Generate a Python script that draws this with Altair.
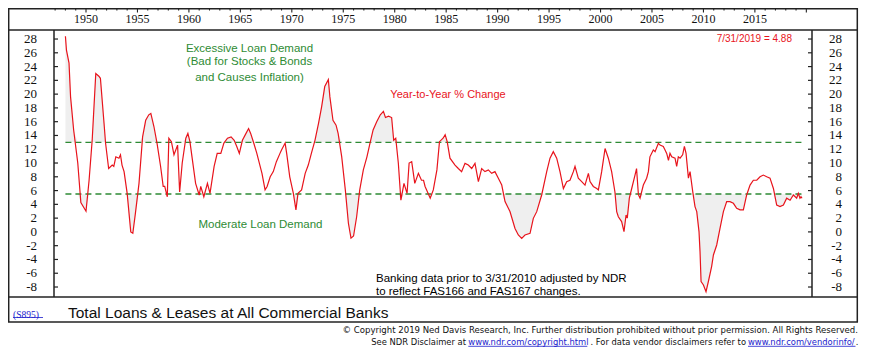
import altair as alt
import pandas as pd

# ---------------- data ----------------
dates = [
    1948.0, 1948.1, 1948.35, 1948.5, 1948.8, 1949.2, 1949.5, 1950.0, 1950.3, 1950.6,
    1950.95, 1951.25, 1951.4, 1951.75, 1951.9, 1952.2, 1952.55, 1952.7, 1952.9, 1953.2,
    1953.35, 1953.5, 1953.7, 1954.0, 1954.35, 1954.55, 1954.8, 1955.15, 1955.5, 1955.8,
    1956.1, 1956.3, 1956.6, 1956.9, 1957.25, 1957.5, 1957.65, 1957.9, 1958.05, 1958.3,
    1958.55, 1958.9, 1959.1, 1959.35, 1959.7, 1959.9, 1960.1, 1960.3, 1960.65, 1961.0,
    1961.15, 1961.45, 1961.8, 1962.05, 1962.45, 1962.75, 1963.1, 1963.4, 1963.75, 1964.1,
    1964.4, 1964.65, 1964.9, 1965.2, 1965.55, 1965.8, 1966.0, 1966.3, 1966.6, 1967.1,
    1967.4, 1967.6, 1967.9, 1968.2, 1968.5, 1968.85, 1969.0, 1969.35, 1969.5, 1969.8,
    1970.15, 1970.4, 1970.6, 1970.95, 1971.3, 1971.6, 1971.9, 1972.25, 1972.6, 1972.9,
    1973.2, 1973.55, 1973.7, 1974.0, 1974.3, 1974.5, 1974.85, 1975.2, 1975.5, 1975.75,
    1976.0, 1976.3, 1976.6, 1976.95, 1977.3, 1977.6, 1977.9, 1978.25, 1978.6, 1978.9,
    1979.1, 1979.4, 1979.7, 1979.9, 1980.1, 1980.35, 1980.6, 1980.9, 1981.2, 1981.4,
    1981.65, 1981.95, 1982.3, 1982.6, 1982.8, 1982.95, 1983.1, 1983.45, 1983.75, 1984.1,
    1984.35, 1984.7, 1984.9, 1985.1, 1985.37, 1985.86, 1986.18, 1986.5, 1986.83, 1987.15,
    1987.48, 1987.8, 1988.13, 1988.45, 1988.77, 1989.1, 1989.42, 1989.74, 1990.07, 1990.4,
    1990.72, 1991.2, 1991.69, 1992.01, 1992.34, 1992.66, 1993.15, 1993.47, 1993.8, 1994.28,
    1994.77, 1995.09, 1995.41, 1995.74, 1996.06, 1996.39, 1996.71, 1997.03, 1997.36, 1997.52,
    1997.84, 1998.17, 1998.49, 1998.82, 1998.98, 1999.3, 1999.63, 1999.79, 2000.11, 2000.44,
    2000.76, 2001.08, 2001.4, 2001.57, 2001.73, 2002.05, 2002.28, 2002.48, 2002.6, 2002.8,
    2003.03, 2003.35, 2003.5, 2003.68, 2003.84, 2004.16, 2004.48, 2004.65, 2004.8, 2005.13,
    2005.3, 2005.62, 2005.78, 2006.1, 2006.27, 2006.43, 2006.6, 2006.75, 2006.92, 2007.24,
    2007.4, 2007.56, 2007.73, 2007.98, 2008.15, 2008.31, 2008.54, 2008.7, 2008.96, 2009.18,
    2009.35, 2009.57, 2009.67, 2009.77, 2010.0, 2010.25, 2010.48, 2010.8, 2010.97, 2011.29,
    2011.61, 2011.94, 2012.26, 2012.58, 2012.91, 2013.23, 2013.56, 2013.88, 2014.2, 2014.53,
    2014.85, 2015.18, 2015.5, 2015.82, 2016.15, 2016.47, 2016.8, 2017.12, 2017.44, 2017.77,
    2018.09, 2018.42, 2018.74, 2019.06, 2019.22, 2019.38, 2019.48, 2019.58,
]
yoy = [
    28.4, 26.4, 24.5, 19.6, 14.8, 10.0, 4.25, 3.0, 7.5, 13.3,
    23.0, 22.6, 22.3, 15.8, 12.9, 9.2, 9.7, 9.5, 10.9, 10.7,
    11.2, 9.7, 8.75, 5.6, 0.0, -0.2, 2.7, 7.05, 13.8, 16.2,
    17.0, 17.2, 15.3, 12.9, 9.5, 6.6, 6.6, 5.1, 13.6, 13.1,
    11.2, 12.6, 5.8, 10.0, 13.6, 14.3, 13.1, 10.9, 7.05, 5.35,
    6.6, 5.1, 7.05, 5.6, 9.5, 11.4, 11.4, 12.9, 13.6, 13.8,
    13.3, 12.4, 11.4, 13.3, 14.3, 15.0, 14.3, 12.9, 11.4, 8.5,
    6.1, 6.6, 8.0, 8.75, 10.2, 11.4, 11.9, 12.9, 11.4, 8.0,
    5.6, 3.2, 5.6, 6.1, 8.5, 9.7, 11.4, 13.3, 15.8, 18.2,
    21.1, 22.1, 19.6, 16.2, 15.5, 14.3, 10.9, 6.1, 1.25, -0.9,
    -0.6, 2.2, 6.1, 9.0, 10.9, 12.9, 14.8, 16.0, 17.0, 17.5,
    16.6, 16.8, 16.6, 13.3, 13.6, 10.0, 4.6, 7.05, 5.6, 10.0,
    10.2, 7.05, 8.5, 7.5, 7.5, 6.6, 6.1, 4.9, 6.1, 9.0,
    13.1, 13.6, 14.1, 13.1, 10.7, 9.7, 9.2, 8.75, 9.95, 9.7,
    9.2, 9.95, 7.3, 9.2, 8.75, 9.0, 8.5, 8.75, 7.8, 6.8,
    4.4, 2.95, 0.5, -0.45, -0.93, -0.45, -0.2, 1.97, 2.94, 5.36,
    8.75, 10.7, 11.65, 10.7, 8.75, 6.3, 7.3, 7.5, 8.75, 9.5,
    7.8, 7.3, 6.8, 8.5, 7.3, 6.6, 6.3, 6.1, 8.75, 12.1,
    10.7, 8.75, 5.8, 2.95, 2.2, 1.5, 0.04, 2.45, 2.0, 4.9,
    6.3, 8.25, 9.2, 5.4, 4.9, 6.8, 7.8, 8.75, 10.9, 11.9,
    11.65, 12.85, 12.6, 12.4, 11.9, 11.4, 10.4, 11.4, 10.9, 10.7,
    9.5, 10.9, 10.7, 11.2, 12.4, 11.4, 7.8, 8.75, 5.84, 3.67,
    2.94, 0.04, -2.87, -7.2, -7.7, -8.67, -7.2, -5.0, -3.35, -1.9,
    0.5, 2.94, 4.4, 4.4, 4.15, 3.42, 3.2, 3.2, 5.36, 6.8,
    7.5, 7.5, 8.0, 8.25, 8.0, 7.8, 6.3, 3.9, 3.67, 3.9,
    4.9, 4.6, 5.36, 4.9, 5.6, 4.9, 5.1, 4.88,
]
upper_band = 13.0
lower_band = 5.5
y_ticks = list(range(-8, 29, 2))
year_ticks = list(range(1947, 2021))
year_labels = list(range(1950, 2020, 5))

# ---------------- styling ----------------
SANS = "Liberation Sans, Arial, sans-serif"
SERIF = "Liberation Serif, Times New Roman, serif"
NARROW = "Liberation Sans Narrow, Arial Narrow, DejaVu Sans Condensed, sans-serif"
RED = "#e8141c"
GREEN = "#2e8b34"
FRAME = "#222222"
BLUE = "#1a1acc"

W, H = 758, 267
xs = alt.Scale(domain=[1946.89, 2020.55], nice=False, zero=False)
ys = alt.Scale(domain=[-9.45, 29.31], nice=False, zero=False)

df = pd.DataFrame({"t": dates, "v": yoy})
base = alt.Chart(df)

area_hi = base.transform_calculate(
    hi=f"max(datum.v, {upper_band})", b=f"{upper_band}"
).mark_area(color="#a8a8a8", opacity=0.18).encode(
    x=alt.X("t:Q", scale=xs, axis=None),
    y=alt.Y("hi:Q", scale=ys, axis=None),
    y2="b:Q",
)
area_lo = base.transform_calculate(
    lo=f"min(datum.v, {lower_band})", b=f"{lower_band}"
).mark_area(color="#a8a8a8", opacity=0.18).encode(
    x=alt.X("t:Q", scale=xs, axis=None),
    y=alt.Y("lo:Q", scale=ys, axis=None),
    y2="b:Q",
)

bands = alt.Chart(pd.DataFrame({
    "y": [upper_band, lower_band],
    "x1": [dates[0], dates[0]],
    "x2": [dates[-1], dates[-1]],
})).mark_rule(color=GREEN, strokeWidth=1.3, strokeDash=[6, 4]).encode(
    x=alt.X("x1:Q", scale=xs, axis=None),
    x2="x2:Q",
    y=alt.Y("y:Q", scale=ys, axis=None),
)

line = base.mark_line(color=RED, strokeWidth=1.2).encode(
    x=alt.X("t:Q", scale=xs, axis=None),
    y=alt.Y("v:Q", scale=ys, axis=None),
)

# y-axis ticks and labels (both sides)
ydf = pd.DataFrame({"yt": y_ticks, "lab": [str(v) for v in y_ticks]})
ytick_l = alt.Chart(ydf).mark_rule(color=FRAME, strokeWidth=1.2).encode(
    y=alt.Y("yt:Q", scale=ys, axis=None), x=alt.value(0), x2=alt.value(4))
ytick_r = alt.Chart(ydf).mark_rule(color=FRAME, strokeWidth=1.2).encode(
    y=alt.Y("yt:Q", scale=ys, axis=None), x=alt.value(754), x2=alt.value(758))
ylab_l = alt.Chart(ydf).mark_text(font=SERIF, fontSize=13, align="right", baseline="middle",
                                  color="#111").encode(
    y=alt.Y("yt:Q", scale=ys, axis=None), x=alt.value(-17), text="lab:N")
ylab_r = alt.Chart(ydf).mark_text(font=SERIF, fontSize=13, align="right", baseline="middle",
                                  color="#111").encode(
    y=alt.Y("yt:Q", scale=ys, axis=None), x=alt.value(788), text="lab:N")

# x-axis (top strip) ticks and labels
xdf = pd.DataFrame({"yr": year_ticks})
xtick_minor = alt.Chart(xdf).transform_filter("datum.yr % 5 != 0").mark_rule(
    color=FRAME, strokeWidth=1.1).encode(
    x=alt.X("yr:Q", scale=xs, axis=None), y=alt.value(-21.5), y2=alt.value(-19.5))
xtick_major = alt.Chart(xdf).transform_filter("datum.yr % 5 == 0").mark_rule(
    color=FRAME, strokeWidth=1.1).encode(
    x=alt.X("yr:Q", scale=xs, axis=None), y=alt.value(-21.5), y2=alt.value(-17.5))
xlab = alt.Chart(pd.DataFrame({"yr": year_labels, "lab": [str(v) for v in year_labels]})).mark_text(
    font=SERIF, fontSize=12, align="center", baseline="middle", color="#111").encode(
    x=alt.X("yr:Q", scale=xs, axis=None), y=alt.value(-11), text="lab:N")


def seg(x1, y1, x2, y2, color=FRAME, w=1.5):
    return alt.Chart(pd.DataFrame({"d": [0]})).mark_rule(color=color, strokeWidth=w).encode(
        x=alt.value(x1), x2=alt.value(x2), y=alt.value(y1), y2=alt.value(y2))


def label(txt, x, y, size, color="#000", font=SANS, align="left", baseline="middle"):
    return alt.Chart(pd.DataFrame({"s": [txt]})).mark_text(
        font=font, fontSize=size, color=color, align=align, baseline=baseline).encode(
        text="s:N", x=alt.value(x), y=alt.value(y))


frame = [
    seg(-45.3, -21.3, 803.3, -21.3),   # top line
    seg(-46, 0, 804, 0),               # top of plot / bottom of year strip
    seg(-46, 267, 804, 267),           # bottom of plot
    seg(-46, 292, 804, 292),           # bottom of title box
    seg(-45.3, -22, -45.3, 292),       # outer left
    seg(803.3, -22, 803.3, 292),       # outer right
    seg(0, 0, 0, 267),                 # plot left
    seg(758, 0, 758, 267),             # plot right
]

CS = 9.3
texts = [
    label("Excessive Loan Demand", 195.5, 18.5, 11.5, GREEN, align="center"),
    label("(Bad for Stocks & Bonds", 195.5, 32, 11.5, GREEN, align="center"),
    label("and Causes Inflation)", 195.5, 47.5, 11.5, GREEN, align="center"),
    label("Moderate Loan Demand", 206.5, 195, 11.5, GREEN, align="center"),
    label("Year-to-Year % Change", 394, 64.5, 11, RED, align="center"),
    label("7/31/2019 = 4.88", 738, 9, 10, RED, align="right"),
    label("Banking data prior to 3/31/2010 adjusted by NDR", 322, 248.5, 11.5, "#000"),
    label("to reflect FAS166 and FAS167 changes.", 322, 261.5, 11.5, "#000"),
    label("(S895)", -41, 284.5, 9.5, BLUE, font=SERIF),
    seg(-41, 287.5, -11, 287.5, BLUE, 0.8),
    label("Total Loans & Leases at All Commercial Banks", 14, 282.8, 15.5, "#111"),
    label("\u00a9 Copyright 2019 Ned Davis Research, Inc.  Further distribution prohibited "
          "without prior permission.  All Rights Reserved.", 804, 299.5, 9.5, "#111",
          font=NARROW, align="right"),
    label("See NDR Disclaimer at", 412, 311.8, CS, "#111", font=NARROW, align="right"),
    label("www.ndr.com/copyright.html", 414.3, 311.8, CS, BLUE, font=NARROW),
    label(". For data vendor disclaimers refer to", 692, 311.8, CS, "#111", font=NARROW,
          align="right"),
    label("www.ndr.com/vendorinfo/", 694, 311.8, CS, BLUE, font=NARROW),
    label(".", 801.7, 311.8, CS, "#111", font=NARROW),
    seg(414.3, 316.3, 533.3, 316.3, BLUE, 0.8),
    seg(694, 316.3, 801.5, 316.3, BLUE, 0.8),
]

chart = alt.layer(
    area_hi, area_lo, bands, line,
    ytick_l, ytick_r, ylab_l, ylab_r,
    xtick_minor, xtick_major, xlab,
    *frame, *texts,
).properties(
    width=W, height=H,
    autosize=alt.AutoSizeParams(type="none"),
    padding={"left": 46, "top": 22, "right": 54, "bottom": 53},
    background="white",
).configure_view(stroke=None)

chart.save("out.html", embed_options={"renderer": "svg", "actions": False})
